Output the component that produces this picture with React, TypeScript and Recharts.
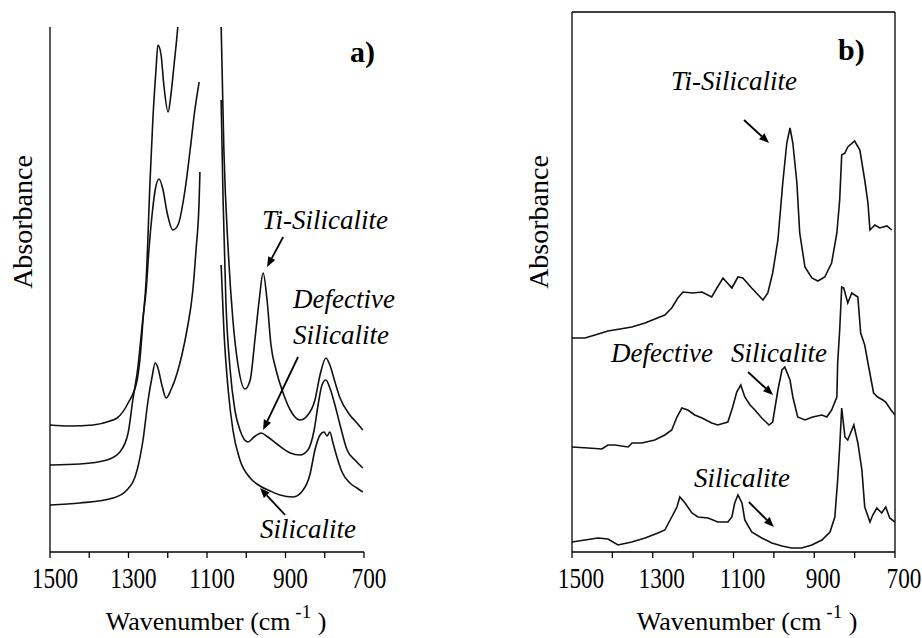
import React from 'react';
import { LineChart, Line, XAxis, YAxis, ReferenceLine } from 'recharts';

const serif = { fontFamily: 'Liberation Serif' };

// wavenumber ticks (cm-1) and the ones that carry a label
const wavenumberTicks = [1500, 1400, 1300, 1200, 1100, 1000, 900, 800, 700];
const labelledTicks = [1500, 1300, 1100, 900, 700];

// panel a) spectra, [wavenumber, absorbance (a.u.)]; each one is cut where it runs off scale
const tiSilicaliteA1 = [
  [1500, 1.27], [1449, 1.26], [1390, 1.27], [1347, 1.31], [1329, 1.34], [1301, 1.49],
  [1278, 1.72], [1271, 1.92], [1263, 2.32], [1255, 2.72], [1245, 3.72], [1238, 4.32],
  [1230, 4.82], [1225, 5.07], [1217, 4.97], [1210, 4.67], [1199, 4.4], [1192, 4.57],
  [1184, 4.87], [1174, 5.27], [1166, 5.72],
];
const tiSilicaliteA2 = [
  [1067, 5.72], [1064, 5.27], [1057, 4.02], [1046, 3.02], [1034, 2.32], [1021, 1.87],
  [1003, 1.63], [990, 1.72], [978, 2.12], [967, 2.52], [957, 2.79], [947, 2.52],
  [937, 2.07], [924, 1.82], [906, 1.59], [888, 1.42], [863, 1.32], [843, 1.37],
  [825, 1.52], [812, 1.77], [797, 1.94], [787, 1.87], [774, 1.7], [761, 1.54],
  [736, 1.37], [718, 1.29], [703, 1.22],
];
const defectiveA1 = [
  [1500, 0.87], [1424, 0.88], [1355, 0.92], [1322, 1.0], [1301, 1.19], [1289, 1.52],
  [1276, 1.85], [1263, 2.35], [1255, 2.62], [1248, 3.02], [1240, 3.37], [1232, 3.62],
  [1222, 3.73], [1212, 3.62], [1202, 3.4], [1187, 3.22], [1174, 3.27], [1156, 3.62],
  [1143, 4.02], [1131, 4.42], [1120, 4.7],
];
const defectiveA2 = [
  [1064, 4.52], [1059, 3.52], [1052, 2.52], [1041, 1.82], [1029, 1.42], [1016, 1.22],
  [996, 1.1], [980, 1.15], [962, 1.19], [945, 1.15], [922, 1.08], [888, 0.99],
  [863, 0.97], [843, 1.02], [827, 1.22], [817, 1.47], [807, 1.67], [797, 1.72],
  [787, 1.64], [774, 1.47], [761, 1.27], [743, 1.02], [723, 0.92], [703, 0.84],
];
const silicaliteA1 = [
  [1500, 0.47], [1424, 0.49], [1339, 0.54], [1304, 0.62], [1278, 0.82], [1263, 1.12],
  [1250, 1.52], [1240, 1.75], [1232, 1.89], [1225, 1.84], [1215, 1.67], [1204, 1.54],
  [1192, 1.62], [1176, 1.79], [1164, 1.97], [1151, 2.22], [1136, 2.62], [1128, 3.02],
  [1120, 3.52], [1118, 3.8],
];
const silicaliteA2 = [
  [1064, 2.87], [1057, 2.22], [1046, 1.62], [1034, 1.22], [1016, 0.92], [990, 0.74],
  [965, 0.66], [939, 0.61], [914, 0.57], [881, 0.55], [855, 0.62], [838, 0.77],
  [825, 1.02], [812, 1.17], [802, 1.2], [794, 1.16], [787, 1.2], [779, 1.09],
  [769, 0.95], [756, 0.8], [736, 0.69], [718, 0.64], [703, 0.6],
];

// panel b) spectra
const tiSilicaliteB = [
  [1500, 2.14], [1468, 2.14], [1443, 2.17], [1411, 2.21], [1381, 2.23], [1352, 2.25],
  [1319, 2.29], [1295, 2.33], [1270, 2.37], [1253, 2.44], [1238, 2.54], [1225, 2.6],
  [1201, 2.59], [1178, 2.6], [1154, 2.55], [1141, 2.64], [1126, 2.74], [1104, 2.64],
  [1089, 2.75], [1077, 2.74], [1055, 2.64], [1027, 2.52], [1015, 2.59], [1003, 2.79],
  [990, 3.12], [978, 3.69], [968, 4.09], [960, 4.24], [953, 4.09], [943, 3.69],
  [936, 3.19], [923, 2.85], [906, 2.74], [891, 2.71], [874, 2.75], [857, 2.89],
  [844, 3.19], [837, 3.52], [832, 3.97], [824, 3.99], [817, 4.05], [800, 4.11],
  [787, 4.02], [775, 3.72], [767, 3.49], [762, 3.22], [750, 3.27], [738, 3.24],
  [720, 3.26], [708, 3.22],
];
const defectiveB = [
  [1500, 1.05], [1460, 1.04], [1426, 1.03], [1411, 1.07], [1394, 1.07], [1361, 1.05],
  [1351, 1.09], [1327, 1.09], [1295, 1.12], [1270, 1.17], [1253, 1.22], [1240, 1.35],
  [1228, 1.44], [1213, 1.42], [1196, 1.37], [1178, 1.34], [1154, 1.29], [1139, 1.27],
  [1114, 1.3], [1102, 1.45], [1092, 1.6], [1082, 1.67], [1072, 1.55], [1059, 1.47],
  [1047, 1.42], [1030, 1.34], [1012, 1.27], [1003, 1.3], [990, 1.62], [980, 1.82],
  [973, 1.85], [960, 1.72], [953, 1.55], [941, 1.35], [923, 1.32], [904, 1.35],
  [881, 1.37], [869, 1.35], [857, 1.42], [844, 1.55], [842, 1.89], [837, 2.22],
  [832, 2.65], [827, 2.64], [817, 2.49], [807, 2.59], [792, 2.55], [785, 2.19],
  [775, 2.07], [767, 1.89], [753, 1.59], [743, 1.55], [730, 1.52], [723, 1.5],
  [710, 1.42], [700, 1.37],
];
const silicaliteB = [
  [1500, 0.1], [1468, 0.12], [1436, 0.14], [1411, 0.13], [1386, 0.07], [1352, 0.1],
  [1319, 0.14], [1287, 0.19], [1270, 0.22], [1253, 0.35], [1240, 0.45], [1233, 0.55],
  [1220, 0.49], [1203, 0.39], [1188, 0.35], [1163, 0.34], [1139, 0.3], [1114, 0.3],
  [1104, 0.35], [1097, 0.49], [1089, 0.57], [1079, 0.49], [1072, 0.32], [1055, 0.2],
  [1030, 0.14], [1005, 0.09], [980, 0.06], [956, 0.04], [931, 0.04], [906, 0.07],
  [881, 0.12], [861, 0.2], [849, 0.35], [842, 0.72], [837, 1.05], [832, 1.44],
  [824, 1.15], [817, 1.12], [812, 1.17], [802, 1.27], [792, 1.09], [782, 0.82],
  [775, 0.45], [762, 0.3], [755, 0.37], [745, 0.44], [733, 0.39], [723, 0.45],
  [713, 0.34], [700, 0.3],
];

// annotation arrows, [tail, head] in data units
const arrowsA = [
  [[906, 3.15], [947, 2.85]],
  [[868, 1.95], [957, 1.22]],
  [[901, 0.37], [965, 0.64]],
];
const arrowsB = [
  [[1074, 4.32], [1012, 4.09]],
  [[1064, 1.8], [1002, 1.57]],
  [[1062, 0.5], [1000, 0.25]],
];

const toPoints = (pairs: number[][]) => pairs.map(([w, a]) => ({ w, a }));

const ArrowShape = (props: any) => {
  const { x1, y1, x2, y2 } = props;
  const ang = Math.atan2(y2 - y1, x2 - x1);
  const len = 10;
  const half = 4;
  const bx = x2 - len * Math.cos(ang);
  const by = y2 - len * Math.sin(ang);
  const px = -Math.sin(ang) * half;
  const py = Math.cos(ang) * half;
  return (
    <g>
      <line x1={x1} y1={y1} x2={bx} y2={by} stroke="#000" strokeWidth={1.8} />
      <polygon points={`${x2},${y2} ${bx + px},${by + py} ${bx - px},${by - py}`} fill="#000" />
    </g>
  );
};

const makeTick = (dx: number) => (props: any) => {
  const { x, y, payload } = props;
  if (!labelledTicks.includes(payload.value)) return <g />;
  return (
    <g transform={`translate(${x + dx},${y + 28}) scale(0.8,1)`}>
      <text textAnchor="middle" style={serif} fontSize={29} fill="#000">
        {payload.value}
      </text>
    </g>
  );
};

const lineStyle = { stroke: '#111', strokeWidth: 1.6 };

const T = (p: any) => <text style={serif} fill="#000" {...p} />;

const App: React.FC = () => {
  const segmentsA = [tiSilicaliteA1, tiSilicaliteA2, defectiveA1, defectiveA2, silicaliteA1, silicaliteA2];
  const seriesB = [tiSilicaliteB, defectiveB, silicaliteB];

  return (
    <div style={{ position: 'absolute', left: 0, top: 0, width: 922, height: 638, background: '#fff' }}>
      <div style={{ position: 'absolute', left: 0, top: 0 }}>
        <LineChart width={461} height={638} margin={{ top: 27, right: 97, bottom: 0, left: 0 }}>
          <XAxis
            dataKey="w"
            type="number"
            domain={[700, 1500]}
            reversed
            allowDataOverflow
            ticks={wavenumberTicks}
            interval={0}
            height={86}
            tickSize={6}
            stroke="#000"
            tickLine={{ stroke: '#000', strokeWidth: 1.3 }}
            axisLine={{ stroke: '#000', strokeWidth: 1.3 }}
            tick={makeTick(5)}
          />
          <YAxis
            type="number"
            domain={[0, 5.25]}
            allowDataOverflow
            width={50}
            tick={false}
            tickLine={false}
            axisLine={{ stroke: '#000', strokeWidth: 1.3 }}
          />
          {segmentsA.map((seg, i) => (
            <Line
              key={i}
              data={toPoints(seg)}
              dataKey="a"
              type="monotone"
              dot={false}
              activeDot={false}
              isAnimationActive={false}
              {...lineStyle}
            />
          ))}
          {arrowsA.map((seg, i) => (
            <ReferenceLine
              key={`ar${i}`}
              segment={[{ x: seg[0][0], y: seg[0][1] }, { x: seg[1][0], y: seg[1][1] }]}
              shape={ArrowShape}
            />
          ))}
        </LineChart>
      </div>

      <div style={{ position: 'absolute', left: 461, top: 0 }}>
        <LineChart width={461} height={638} margin={{ top: 12, right: 27, bottom: 0, left: 0 }}>
          <XAxis
            dataKey="w"
            type="number"
            domain={[700, 1500]}
            reversed
            allowDataOverflow
            ticks={wavenumberTicks}
            interval={0}
            height={86}
            tickSize={6}
            stroke="#000"
            tickLine={{ stroke: '#000', strokeWidth: 1.3 }}
            axisLine={{ stroke: '#000', strokeWidth: 1.3 }}
            tick={makeTick(9)}
          />
          <YAxis
            type="number"
            domain={[0, 5.4]}
            allowDataOverflow
            width={111}
            tick={false}
            tickLine={false}
            axisLine={{ stroke: '#000', strokeWidth: 1.3 }}
          />
          <ReferenceLine y={5.4} stroke="#000" strokeWidth={1.3} />
          <ReferenceLine x={700} stroke="#000" strokeWidth={1.3} />
          {seriesB.map((s, i) => (
            <Line
              key={i}
              data={toPoints(s)}
              dataKey="a"
              type="linear"
              dot={false}
              activeDot={false}
              isAnimationActive={false}
              {...lineStyle}
            />
          ))}
          {arrowsB.map((seg, i) => (
            <ReferenceLine
              key={`br${i}`}
              segment={[{ x: seg[0][0], y: seg[0][1] }, { x: seg[1][0], y: seg[1][1] }]}
              shape={ArrowShape}
            />
          ))}
        </LineChart>
      </div>

      <svg width={922} height={638} style={{ position: 'absolute', left: 0, top: 0, pointerEvents: 'none' }}>
        {/* axis titles */}
        <T transform="translate(32,222) rotate(-90)" textAnchor="middle" fontSize={28}>Absorbance</T>
        <T transform="translate(548,222) rotate(-90)" textAnchor="middle" fontSize={28}>Absorbance</T>
        <T x={216} y={630} textAnchor="middle" fontSize={26}>
          Wavenumber (cm<tspan dy={-12} fontSize={19}> -1</tspan><tspan dy={12}> )</tspan>
        </T>
        <T x={747} y={630} textAnchor="middle" fontSize={26}>
          Wavenumber (cm<tspan dy={-12} fontSize={19}> -1</tspan><tspan dy={12}> )</tspan>
        </T>

        {/* panel tags */}
        <T x={350} y={62} fontSize={30} fontWeight="bold">a)</T>
        <T x={838} y={60} fontSize={30} fontWeight="bold">b)</T>

        {/* sample labels */}
        <T x={262} y={229} fontSize={27} fontStyle="italic">Ti-Silicalite</T>
        <T x={293} y={308} fontSize={27} fontStyle="italic">Defective</T>
        <T x={293} y={344} fontSize={27} fontStyle="italic">Silicalite</T>
        <T x={260} y={538} fontSize={27} fontStyle="italic">Silicalite</T>

        <T x={671} y={90} fontSize={27} fontStyle="italic">Ti-Silicalite</T>
        <T x={611} y={362} fontSize={27} fontStyle="italic">Defective</T>
        <T x={731} y={362} fontSize={27} fontStyle="italic">Silicalite</T>
        <T x={694} y={487} fontSize={27} fontStyle="italic">Silicalite</T>
      </svg>
    </div>
  );
};

export default App;
